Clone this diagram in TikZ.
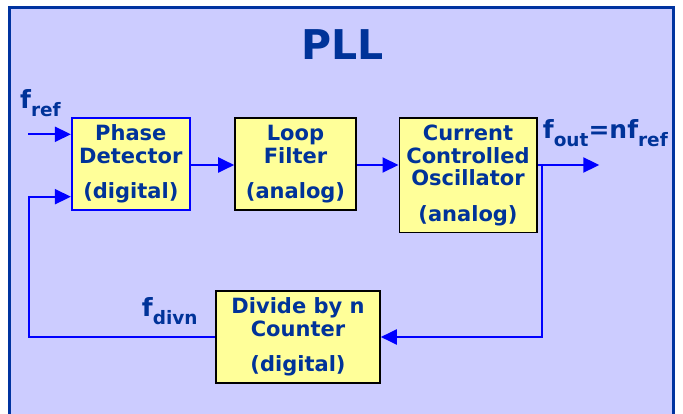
\documentclass[tikz,border=0pt]{standalone}
\usepackage{fontspec}
\setmainfont{DejaVu Sans}
\usetikzlibrary{arrows.meta,calc}
\definecolor{bgc}{HTML}{CCCCFF}
\definecolor{framec}{HTML}{0033A0}
\definecolor{txtc}{HTML}{003399}
\definecolor{boxfill}{HTML}{FFFF99}
\definecolor{wirec}{HTML}{0000FF}
\newcommand{\bigf}[1]{{\fontsize{25}{25}\selectfont #1}}
\newcommand{\subtx}[1]{\raisebox{-8pt}{\fontsize{18.5}{18.5}\selectfont #1}}
\begin{document}
\begin{tikzpicture}[x=1pt,y=-1pt,
  blockbox/.style={draw=black,line width=1.6pt,fill=boxfill,text=txtc,align=center,
    font=\bfseries\fontsize{21}{22.5}\selectfont,inner sep=0pt},
  arr/.style={draw=wirec,line width=2pt,-{Triangle[length=16pt,width=15pt]}},
  lbl/.style={text=txtc,font=\bfseries,inner sep=0pt,anchor=base west}]
\useasboundingbox (0,0) rectangle (683,414);
\clip (0,0) rectangle (683,414);
\fill[white] (0,0) rectangle (683,414);
\draw[line width=3pt,draw=framec,fill=bgc] (9.5,7.5) rectangle (673,430);
\node[text=txtc,font=\bfseries\fontsize{41}{41}\selectfont,anchor=base,inner sep=0pt] (title) at (342.5,60) {PLL};
% blocks
\node[blockbox,draw=wirec,minimum width=118.3pt,minimum height=91.7pt] (pd) at (130.85,164.15) {Phase\\Detector\\[13pt](digital)};
\node[blockbox,minimum width=121pt,minimum height=91.7pt] (lf) at (295.5,164.15) {Loop\\Filter\\[13pt](analog)};
\node[blockbox,minimum width=137.4pt,minimum height=114.4pt] (cco) at (468,175.5) {Current\\Controlled\\Oscillator\\[13pt](analog)};
\node[blockbox,minimum width=164pt,minimum height=91.7pt] (div) at (298,337) {Divide by n\\Counter\\[13pt](digital)};
% labels
\node[lbl] (lref) at (20,108.3) {\bigf{f}\subtx{ref}};
\node[lbl] (lout) at (542.7,138.3) {\bigf{f}\subtx{out}\bigf{=nf}\subtx{ref}};
\node[lbl] (ldiv) at (141.7,316.7) {\bigf{f}\subtx{divn}};
% coordinates
\coordinate (fin) at (28,134.3);
\coordinate (fout) at (599.3,165);
\coordinate (tap) at (541.5,165);
\coordinate (fb) at (29.3,196.7);
\coordinate (mid) at (0,165);
% connectors
\draw[arr] (fin) -- (fin -| pd.west);
\draw[arr] (pd.east |- mid) -- (lf.west |- mid);
\draw[arr] (lf.east |- mid) -- (cco.west |- mid);
\draw[arr] (cco.east |- mid) -- (fout);
\draw[arr] (tap) |- (div.east);
\draw[arr] (div.west) -| (fb) -- (fb -| pd.west);
\end{tikzpicture}
\end{document}
